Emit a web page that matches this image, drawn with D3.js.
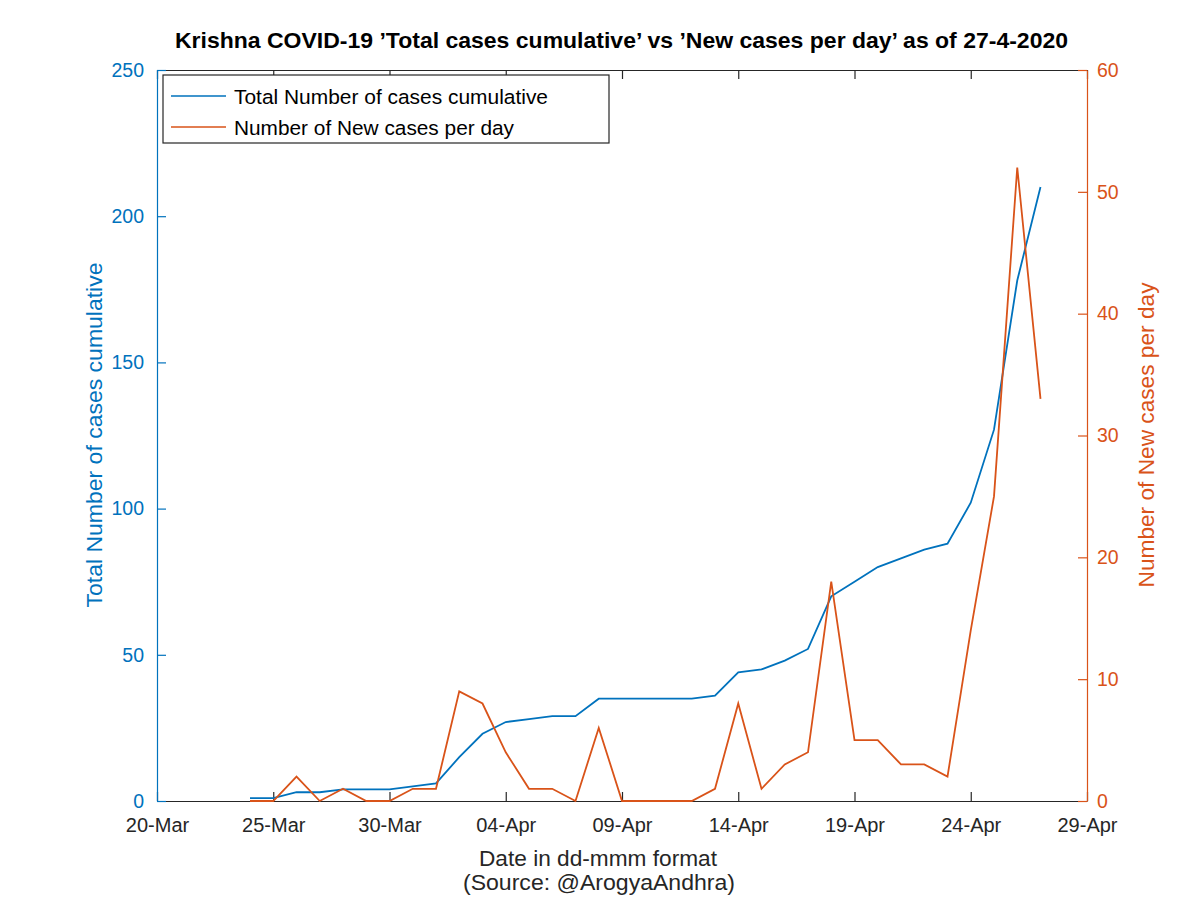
<!DOCTYPE html>
<html><head><meta charset="utf-8">
<script src="https://cdn.jsdelivr.net/npm/d3@7"></script>
<style>body{margin:0;background:#fff;} svg{display:block;font-family:"Liberation Sans",Arial,Helvetica,sans-serif;}</style>
</head><body>
<svg id="c" width="1200" height="898"></svg>
<script>
const dates = ["2020-03-24","2020-03-25","2020-03-26","2020-03-27","2020-03-28","2020-03-29","2020-03-30","2020-03-31",
"2020-04-01","2020-04-02","2020-04-03","2020-04-04","2020-04-05","2020-04-06","2020-04-07","2020-04-08","2020-04-09",
"2020-04-10","2020-04-11","2020-04-12","2020-04-13","2020-04-14","2020-04-15","2020-04-16","2020-04-17","2020-04-18",
"2020-04-19","2020-04-20","2020-04-21","2020-04-22","2020-04-23","2020-04-24","2020-04-25","2020-04-26","2020-04-27"];
const totalCases = [1,1,3,3,4,4,4,5,6,15,23,27,28,29,29,35,35,35,35,35,36,44,45,48,52,70,75,80,83,86,88,102,127,178,210];
const newCases = [0,0,2,0,1,0,0,1,1,9,8,4,1,1,0,6,0,0,0,0,1,8,1,3,4,18,5,5,3,3,2,14,25,52,33];
const xTickDates = ["2020-03-20","2020-03-25","2020-03-30","2020-04-04","2020-04-09","2020-04-14","2020-04-19","2020-04-24","2020-04-29"];
const leftTicks = [0,50,100,150,200,250];
const rightTicks = [0,10,20,30,40,50,60];
const title = "Krishna COVID-19 \u2019Total cases cumulative\u2019 vs \u2019New cases per day\u2019 as of 27-4-2020";

const parse = d3.utcParse("%Y-%m-%d");
const fmt = d3.utcFormat("%d-%b");
const blue = "#0072BD", orange = "#D95319", dark = "#262626";
const L = 157, R = 1087, T = 70, B = 801;
const svg = d3.select("#c");

const x = d3.scaleUtc().domain([parse("2020-03-20"), parse("2020-04-29")]).range([L, R]);
const yL = d3.scaleLinear().domain([0, 250]).range([B, T]);
const yR = d3.scaleLinear().domain([0, 60]).range([B, T]);

// axes
const xAx = d3.axisBottom(x).tickValues(xTickDates.map(parse)).tickFormat(fmt).tickSizeInner(-9).tickSizeOuter(0);
const gx = svg.append("g").attr("transform", `translate(0,${B})`).call(xAx);
gx.select(".domain").attr("stroke", dark).attr("stroke-width", 1.2);
gx.selectAll(".tick line").attr("stroke", dark).attr("stroke-width", 1.2);
gx.selectAll("text").attr("fill", dark).attr("font-size", 20).attr("dy", null).attr("y", 31);

const xTop = d3.axisTop(x).tickValues(xTickDates.map(parse)).tickFormat("").tickSizeInner(-9).tickSizeOuter(0);
const gt = svg.append("g").attr("transform", `translate(0,${T})`).call(xTop);
gt.select(".domain").attr("stroke", dark).attr("stroke-width", 1.2);
gt.selectAll(".tick line").attr("stroke", dark).attr("stroke-width", 1.2);

const gl = svg.append("g").attr("transform", `translate(${L},0)`)
  .call(d3.axisLeft(yL).tickValues(leftTicks).tickSizeInner(-9).tickSizeOuter(0).tickPadding(13));
gl.select(".domain").attr("stroke", blue).attr("stroke-width", 1.2);
gl.selectAll(".tick line").attr("stroke", blue).attr("stroke-width", 1.2);
gl.selectAll("text").attr("fill", blue).attr("font-size", 19.5);

const gr = svg.append("g").attr("transform", `translate(${R},0)`)
  .call(d3.axisRight(yR).tickValues(rightTicks).tickSizeInner(-9).tickSizeOuter(0).tickPadding(10));
gr.select(".domain").attr("stroke", orange).attr("stroke-width", 1.2);
gr.selectAll(".tick line").attr("stroke", orange).attr("stroke-width", 1.2);
gr.selectAll("text").attr("fill", orange).attr("font-size", 19.5);

// lines
const ds = dates.map(parse);
svg.append("path").datum(totalCases).attr("fill", "none").attr("stroke", blue).attr("stroke-width", 1.8)
  .attr("d", d3.line().x((d,i) => x(ds[i])).y(d => yL(d)));
svg.append("path").datum(newCases).attr("fill", "none").attr("stroke", orange).attr("stroke-width", 1.8)
  .attr("d", d3.line().x((d,i) => x(ds[i])).y(d => yR(d)));

// title & labels
svg.append("text").attr("x", 621.5).attr("y", 48).attr("text-anchor", "middle").attr("font-size", 21.5)
  .attr("font-weight", "bold").attr("fill", "#000").attr("textLength", 893).attr("lengthAdjust", "spacingAndGlyphs").text(title);
svg.append("text").attr("x", 598).attr("y", 866).attr("text-anchor", "middle").attr("font-size", 22.5)
  .attr("textLength", 238).attr("lengthAdjust", "spacingAndGlyphs").attr("fill", dark).text("Date in dd-mmm format");
svg.append("text").attr("x", 599).attr("y", 890).attr("text-anchor", "middle").attr("font-size", 22.5)
  .attr("textLength", 272).attr("lengthAdjust", "spacingAndGlyphs").attr("fill", dark).text("(Source: @ArogyaAndhra)");
svg.append("text").attr("transform", "translate(102,435) rotate(-90)").attr("text-anchor", "middle").attr("font-size", 22.5)
  .attr("textLength", 345).attr("lengthAdjust", "spacingAndGlyphs").attr("fill", blue).text("Total Number of cases cumulative");
svg.append("text").attr("transform", "translate(1154,435) rotate(-90)").attr("text-anchor", "middle").attr("font-size", 22.5)
  .attr("textLength", 305).attr("lengthAdjust", "spacingAndGlyphs").attr("fill", orange).text("Number of New cases per day");

// legend
const lg = svg.append("g");
lg.append("rect").attr("x", 163).attr("y", 75).attr("width", 446).attr("height", 68).attr("fill", "#fff").attr("stroke", dark).attr("stroke-width", 1.2);
const legendItems = [{label: "Total Number of cases cumulative", color: blue, w: 314},
                     {label: "Number of New cases per day", color: orange, w: 280}];
legendItems.forEach((it, i) => {
  const yy = 96 + i * 31;
  lg.append("line").attr("x1", 171).attr("x2", 226).attr("y1", yy).attr("y2", yy).attr("stroke", it.color).attr("stroke-width", 1.6);
  lg.append("text").attr("x", 234).attr("y", yy + 7.5).attr("font-size", 20.5).attr("fill", "#000")
    .attr("textLength", it.w).attr("lengthAdjust", "spacingAndGlyphs").text(it.label);
});
</script>
</body></html>
